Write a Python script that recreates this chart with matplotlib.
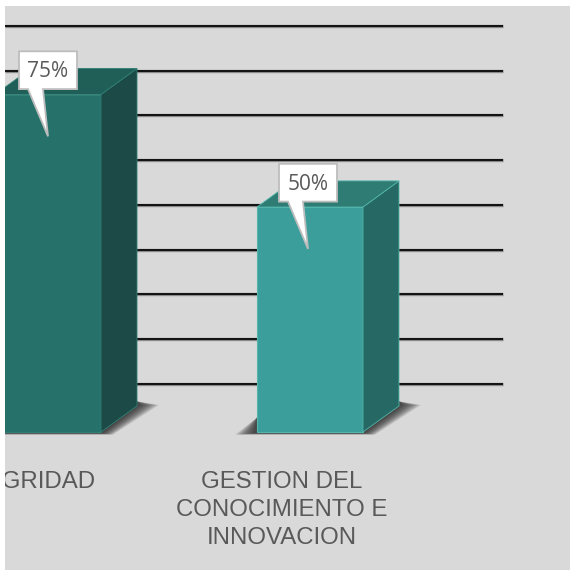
import numpy as np
import matplotlib
matplotlib.use("Agg")
from matplotlib import pyplot as plt
from matplotlib.patches import Polygon, Rectangle

categories = ["INTEGRIDAD", "GESTION DEL\nCONOCIMIENTO E\nINNOVACION"]
values = [75, 50]
labels = ["75%", "50%"]
grid_values = [10.7, 20.6, 30.6, 40.5, 50.4, 60.4, 70.4, 80.3, 90.2]

front_colors = ["#26716a", "#3b9e9b"]
side_colors = ["#1b4a47", "#256864"]
top_colors = ["#1f5f58", "#2f7c74"]
edge_colors = ["#2f7f75", "#52b5ab"]

BG = "#d9d9d9"
BAR_W = 106
DX, DY = 36, 5.8   # depth of the 3d bars

fig = plt.figure(figsize=(5.7, 5.7), dpi=100, facecolor="white")
ax = fig.add_axes([5 / 570, 0, 565 / 570, 564 / 570])
ax.set_facecolor(BG)
# x in pixels, y in percent, baseline of the bars at 0
ax.set_xlim(5, 570)
ax.set_ylim((432 - 570) / 4.5, (432 - 6) / 4.5)
ax.axis("off")
ax.add_patch(Rectangle((5, -40), 565, 200, fc=BG, ec="none", zorder=0))

xpos = [48, 310]
box_x = [48, 308]
label_x = [22, 282]

ax.hlines(grid_values, 5, 503, color="#8a8a8a", lw=2.4, zorder=1)
ax.hlines(grid_values, 5, 503, color="#111111", lw=1.4, zorder=1.1)

for i in range(len(values)):
    x0 = xpos[i] - BAR_W / 2
    x1 = xpos[i] + BAR_W / 2
    v = values[i]
    # shadow on the floor, stacked polygons give the soft edge
    for k in np.linspace(1, 0.1, 14):
        sh = Polygon([(x0 - 22 * k, -0.2 - 0.4 * k), (x1 + 12 * k, -0.2 - 0.4 * k),
                      (x1 + DX + 22 * k, DY + 0.2), (x1 + DX, DY + 1), (x0, 3.2)],
                     fc="#222222", ec="none", alpha=0.1, zorder=2)
        ax.add_patch(sh)
    ax.add_patch(Polygon([(x0, 0), (x1, 0), (x1, v), (x0, v)], fc=front_colors[i],
                         ec=edge_colors[i], lw=0.8, zorder=3))
    ax.add_patch(Polygon([(x1, 0), (x1 + DX, DY), (x1 + DX, v + DY), (x1, v)], fc=side_colors[i],
                         ec=edge_colors[i], lw=0.6, zorder=3))
    ax.add_patch(Polygon([(x0, v), (x1, v), (x1 + DX, v + DY), (x0 + DX, v + DY)], fc=top_colors[i],
                         ec=edge_colors[i], lw=0.6, zorder=3))
    # callout
    bx = box_x[i]
    cx0, cx1 = bx - 29, bx + 29
    cy0, cy1 = v + 1.2, v + 9.6
    call = [(cx0, cy1), (cx1, cy1), (cx1, cy0), (bx - 5, cy0), (bx, v - 9.3), (bx - 20, cy0), (cx0, cy0)]
    ax.add_patch(Polygon(call, fc="white", ec="#bdbdbd", lw=1.3, zorder=4))
    ax.text((cx0 + cx1) / 2, (cy0 + cy1) / 2 - 0.35, labels[i], ha="center", va="center", color="#595959",
            fontsize=15, family="Open Sans", zorder=5)
    t = ax.text(label_x[i], -8.6, categories[i], ha="center", va="top", color="#595959",
                fontsize=17.3, family="Liberation Sans", linespacing=1.35, zorder=5)
    t.set_clip_on(True)

fig.savefig("out.png", dpi=100, facecolor="white")
